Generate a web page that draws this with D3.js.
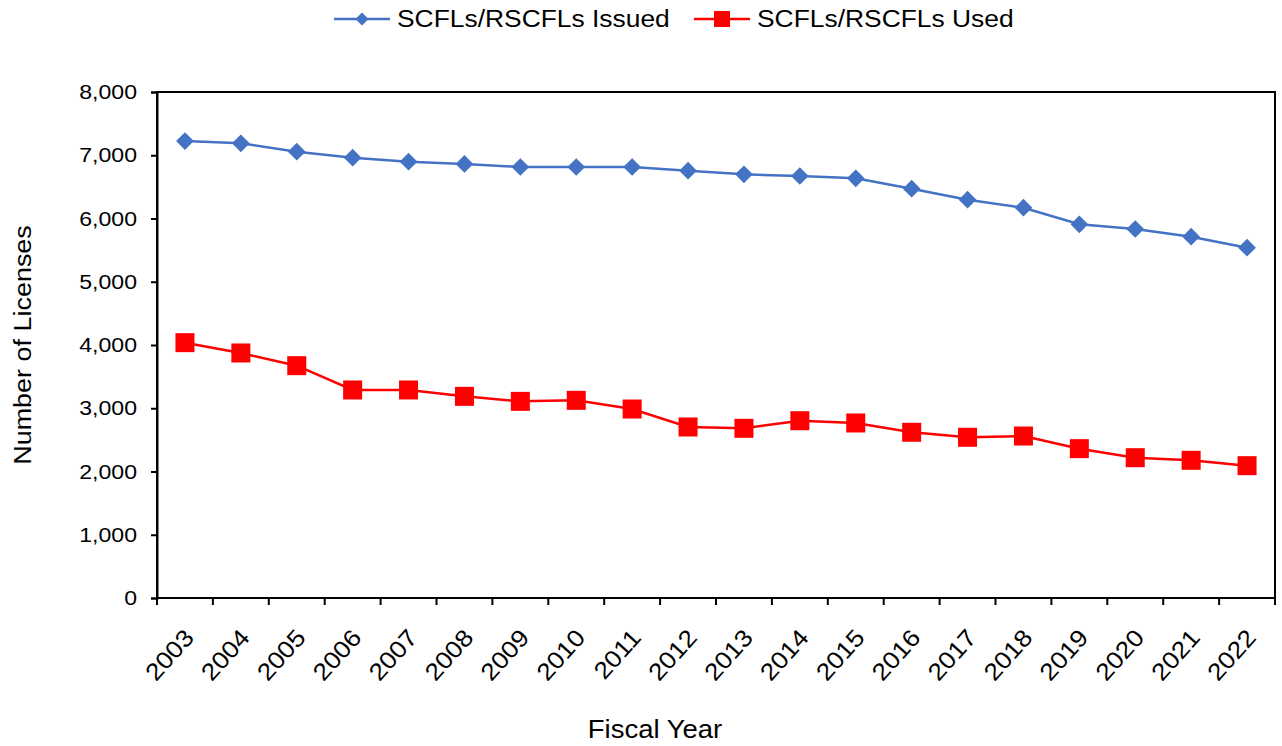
<!DOCTYPE html>
<html>
<head>
<meta charset="utf-8">
<script src="https://cdn.jsdelivr.net/npm/d3@7"></script>
<style>
  body { margin: 0; background: #fff; }
  svg { display: block; font-family: "Liberation Sans", Arial, sans-serif; }
</style>
</head>
<body>
<div id="chart"></div>
<script>
// Fiscal years and license counts
const years = ['2003', '2004', '2005', '2006', '2007', '2008', '2009', '2010', '2011', '2012',
               '2013', '2014', '2015', '2016', '2017', '2018', '2019', '2020', '2021', '2022'];
const issued = [7225, 7188, 7057, 6962, 6899, 6862, 6814, 6814, 6814, 6756,
                6698, 6672, 6635, 6472, 6298, 6171, 5908, 5834, 5713, 5539];
const used = [4037, 3874, 3673, 3289, 3289, 3188, 3109, 3125, 2988, 2704,
              2683, 2803, 2767, 2620, 2541, 2561, 2361, 2218, 2177, 2092];
const yTicks = [0, 1000, 2000, 3000, 4000, 5000, 6000, 7000, 8000];

const seriesList = [
    { name: 'SCFLs/RSCFLs Issued', values: issued, color: '#4472C4', marker: 'diamond' },
    { name: 'SCFLs/RSCFLs Used', values: used, color: '#FF0000', marker: 'square' }
];

// the original text is a little wider than Arial, so stretch it horizontally
const STRETCH = 1.1;

const W = 1282, H = 746;
const margin = { top: 92, right: 7, bottom: 148, left: 157 };
const innerW = W - margin.left - margin.right;
const innerH = H - margin.top - margin.bottom;

const svg = d3.select('#chart').append('svg')
    .attr('width', W)
    .attr('height', H);

const g = svg.append('g')
    .attr('transform', `translate(${margin.left},${margin.top})`);

const x = d3.scaleBand().domain(years).range([0, innerW]);
const y = d3.scaleLinear().domain([0, 8000]).range([innerH, 0]);

// Frame (top + right border)
g.append('rect')
    .attr('width', innerW)
    .attr('height', innerH)
    .attr('fill', 'none')
    .attr('stroke', '#000')
    .attr('stroke-width', 2);

// Y axis
const yAxis = g.append('g')
    .call(d3.axisLeft(y).tickValues(yTicks).tickSize(6).tickPadding(0).tickFormat(d3.format(',')));
yAxis.select('.domain').attr('stroke-width', 2);
yAxis.selectAll('.tick line').attr('stroke-width', 2);
yAxis.selectAll('text')
    .attr('x', null)
    .attr('transform', `translate(-20,0) scale(${STRETCH},1)`)
    .style('font-size', '21px')
    .style('fill', '#000');

// X axis: ticks at category boundaries
const xAxis = g.append('g')
    .attr('transform', `translate(0,${innerH})`);
xAxis.append('line')
    .attr('x1', 0).attr('x2', innerW)
    .attr('stroke', '#000').attr('stroke-width', 2);
const boundaries = years.map(d => x(d)).concat([innerW]);
xAxis.selectAll('.xtick')
    .data(boundaries)
    .enter()
    .append('line')
    .attr('class', 'xtick')
    .attr('x1', d => d).attr('x2', d => d)
    .attr('y1', 0).attr('y2', 7)
    .attr('stroke', '#000').attr('stroke-width', 2);
xAxis.selectAll('.xlabel')
    .data(years)
    .enter()
    .append('text')
    .attr('class', 'xlabel')
    .attr('transform', d => `translate(${x(d) + x.bandwidth() / 2 + 4},${35}) rotate(-48) scale(${STRETCH},1)`)
    .attr('text-anchor', 'end')
    .attr('dy', '0.35em')
    .style('font-size', '24px')
    .text(d => d);

// Axis titles
svg.append('text')
    .attr('transform', `translate(31,${margin.top + innerH / 2}) rotate(-90) scale(${STRETCH},1)`)
    .attr('text-anchor', 'middle')
    .style('font-size', '24.5px')
    .text('Number of Licenses');

svg.append('text')
    .attr('transform', `translate(655,738) scale(${STRETCH},1)`)
    .attr('text-anchor', 'middle')
    .style('font-size', '25px')
    .text('Fiscal Year');

// Lines and markers
const line = d3.line()
    .x((d, i) => x(years[i]) + x.bandwidth() / 2)
    .y(d => y(d));

const drawMarker = (sel, s) => {
    if (s.marker === 'diamond') {
        sel.append('path')
            .attr('d', d3.symbol().type(d3.symbolDiamond2).size(200)())
            .attr('fill', s.color);
    } else {
        sel.append('rect')
            .attr('x', -9.5).attr('y', -9.5)
            .attr('width', 19).attr('height', 19)
            .attr('fill', s.color);
    }
};

seriesList.forEach(s => {
    g.append('path')
        .datum(s.values)
        .attr('fill', 'none')
        .attr('stroke', s.color)
        .attr('stroke-width', 2.5)
        .attr('d', line);

    const pts = g.selectAll(null)
        .data(s.values)
        .enter()
        .append('g')
        .attr('transform', (d, i) => `translate(${x(years[i]) + x.bandwidth() / 2},${y(d)})`);
    drawMarker(pts, s);
});

// Legend
const legendItems = [
    { s: seriesList[0], x0: 334 },
    { s: seriesList[1], x0: 694 }
];
legendItems.forEach(({ s, x0 }) => {
    const lg = svg.append('g').attr('transform', `translate(${x0},19)`);
    lg.append('line')
        .attr('x1', 0).attr('x2', 56)
        .attr('stroke', s.color).attr('stroke-width', 2.5);
    const m = lg.append('g').attr('transform', 'translate(28,0)');
    if (s.marker === 'diamond') {
        m.append('path')
            .attr('d', d3.symbol().type(d3.symbolDiamond2).size(110)())
            .attr('fill', s.color);
    } else {
        m.append('rect')
            .attr('x', -8).attr('y', -8)
            .attr('width', 16).attr('height', 16)
            .attr('fill', s.color);
    }
    lg.append('text')
        .attr('transform', `translate(63,0) scale(${STRETCH},1)`)
        .attr('dy', '0.35em')
        .style('font-size', '24px')
        .text(s.name);
});
</script>
</body>
</html>
